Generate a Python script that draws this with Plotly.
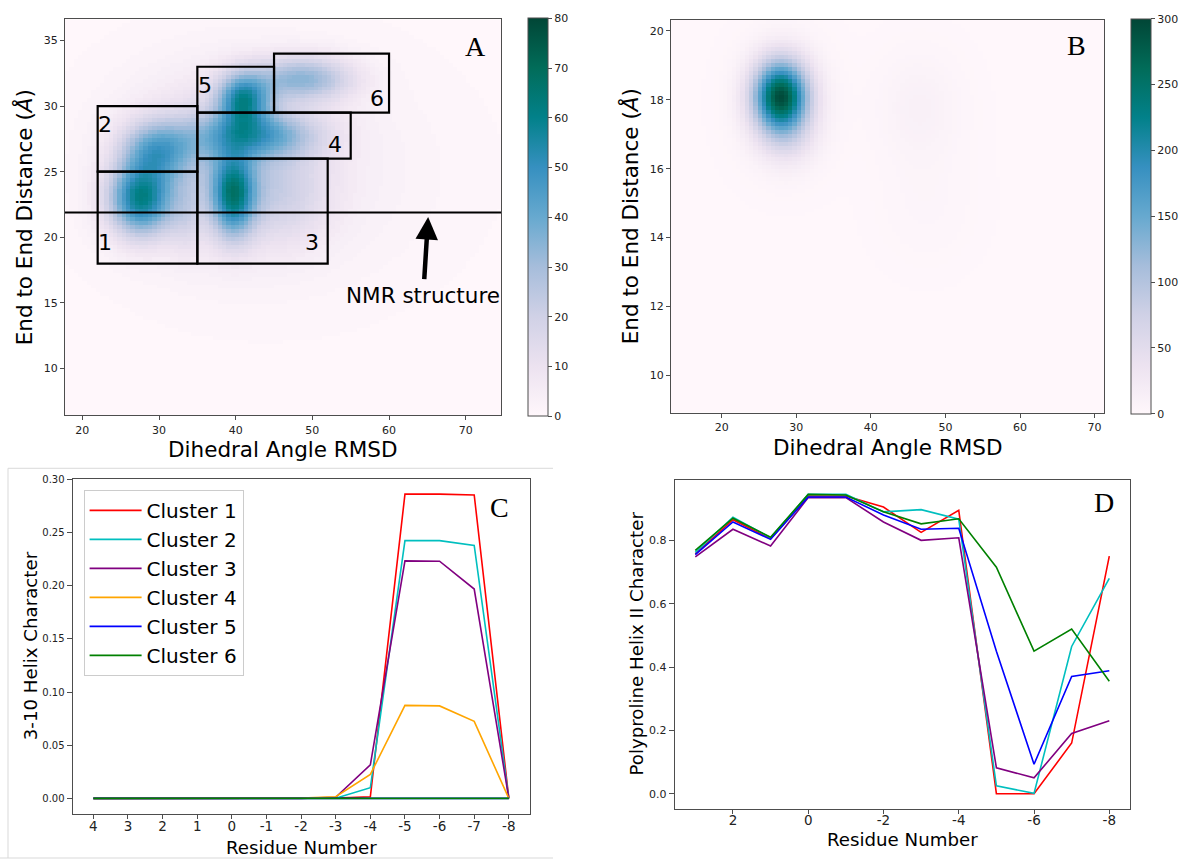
import numpy as np
import plotly.graph_objects as go

W, H = 1188, 860

# ---------------- data ----------------
# Panel A: 2D histogram of dihedral-angle RMSD vs end-to-end distance,
# described by its populated basins (centre, spread, peak count)
a_cx = [27.6, 29.8, 39.7, 41.0, 42.5, 48.8, 46.5, 38.0, 45.0, 33.5]
a_cy = [22.9, 26.7, 23.2, 30.5, 27.8, 32.1, 23.0, 26.0, 25.0, 21.5]
a_sx = [2.9, 3.2, 2.0, 2.3, 5.5, 4.5, 4.0, 8.0, 14.0, 1.5]
a_sy = [1.9, 1.5, 2.2, 1.4, 1.2, 1.2, 2.5, 4.0, 6.0, 2.0]
a_peak = [54, 32, 50, 46, 32, 30, 10, 15, 5, 8]
a_xrange = [17.74, 74.6]
a_yrange = [6.44, 36.62]

# Panel B: same projection for the second ensemble
b_cx = [27.9, 28.4, 28.8, 46.5, 47.5]
b_cy = [18.1, 17.9, 16.9, 17.8, 15.0]
b_sx = [2.5, 4.0, 2.6, 4.0, 4.5]
b_sy = [0.7, 1.2, 0.6, 1.1, 1.2]
b_peak = [270, 22, 30, 12, 5]
b_xrange = [13.2, 71.26]
b_yrange = [8.92, 20.32]

# Cluster boxes drawn on panel A
cluster_ids = ["1", "2", "3", "4", "5", "6"]
box_x0 = [22, 22, 35, 35, 35, 45]
box_x1 = [35, 35, 52, 55, 45, 60]
box_y0 = [18, 25, 18, 26, 29.5, 29.5]
box_y1 = [25, 30, 26, 29.5, 33, 34]
nmr_distance = 21.9

# Panel C: 3-10 helix character per residue
res_c = [4, 3, 2, 1, 0, -1, -2, -3, -4, -5, -6, -7, -8]
helix310 = {
    "Cluster 1": [0, 0, 0, 0, 0, 0, 0, 0.0003, 0.0015, 0.2863, 0.2863, 0.2855, 0],
    "Cluster 2": [0, 0, 0, 0, 0, 0, 0, 0.0002, 0.0100, 0.2425, 0.2425, 0.2380, 0],
    "Cluster 3": [0, 0, 0, 0, 0, 0, 0, 0.0010, 0.0315, 0.2235, 0.2232, 0.1970, 0],
    "Cluster 4": [0, 0, 0, 0, 0, 0, 0.0003, 0.0015, 0.0225, 0.0875, 0.0870, 0.0725, 0],
    "Cluster 5": [0, 0, 0, 0, 0, 0, 0, 0, 0, 0, 0, 0, 0],
    "Cluster 6": [0, 0, 0, 0, 0, 0, 0, 0, 0, 0, 0, 0, 0],
}

# Panel D: polyproline II character per residue
res_d = [3, 2, 1, 0, -1, -2, -3, -4, -5, -6, -7, -8]
ppii = {
    "Cluster 1": [0.757, 0.865, 0.805, 0.940, 0.940, 0.905, 0.825, 0.895, 0.000, 0.000, 0.160, 0.750],
    "Cluster 2": [0.762, 0.873, 0.808, 0.945, 0.945, 0.890, 0.897, 0.867, 0.025, 0.001, 0.465, 0.680],
    "Cluster 3": [0.748, 0.835, 0.782, 0.935, 0.935, 0.858, 0.800, 0.808, 0.082, 0.050, 0.190, 0.230],
    "Cluster 5": [0.755, 0.858, 0.803, 0.937, 0.937, 0.880, 0.835, 0.838, 0.450, 0.093, 0.370, 0.388],
    "Cluster 6": [0.768, 0.870, 0.810, 0.945, 0.943, 0.890, 0.852, 0.868, 0.715, 0.450, 0.520, 0.355],
}

colors = {
    "Cluster 1": "#ff0000",
    "Cluster 2": "#00bfbf",
    "Cluster 3": "#800080",
    "Cluster 4": "#ffa500",
    "Cluster 5": "#0000ff",
    "Cluster 6": "#008000",
}

pubugn = [
    [0.0, "#fff7fb"], [0.125, "#ece2f0"], [0.25, "#d0d1e6"], [0.375, "#a6bddb"],
    [0.5, "#67a9cf"], [0.625, "#3690c0"], [0.75, "#02818a"], [0.875, "#016c59"],
    [1.0, "#014636"],
]

FONT = "DejaVu Sans"
SERIF = "Liberation Serif"
FRAME = "#4d4d4d"


def px(x):
    return x / W


def py(y):
    return 1 - y / H


def hist_grid(xr, yr, cx, cy, sx, sy, peak, nbins=100):
    xe = np.linspace(xr[0], xr[1], nbins + 1)
    ye = np.linspace(yr[0], yr[1], nbins + 1)
    xc = 0.5 * (xe[:-1] + xe[1:])
    yc = 0.5 * (ye[:-1] + ye[1:])
    X, Y = np.meshgrid(xc, yc)
    z = np.zeros_like(X)
    for x0, y0, s1, s2, a in zip(cx, cy, sx, sy, peak):
        z += a * np.exp(-0.5 * (((X - x0) / s1) ** 2 + ((Y - y0) / s2) ** 2))
    return xc, yc, np.round(z)


fig = go.Figure()

# ---------------- panel A ----------------
xa, ya, za = hist_grid(a_xrange, a_yrange, a_cx, a_cy, a_sx, a_sy, a_peak)
fig.add_trace(go.Heatmap(
    x=xa, y=ya, z=za, xaxis="x", yaxis="y", colorscale=pubugn, zmin=0, zmax=80,
    hoverinfo="skip",
    colorbar=dict(
        x=px(527.7), xanchor="left", xpad=0, y=py(213.5), yanchor="middle", ypad=0,
        len=398.4, lenmode="pixels", thickness=20, thicknessmode="pixels",
        outlinewidth=1, outlinecolor=FRAME, tickmode="linear", tick0=0, dtick=10,
        ticks="outside", ticklen=4, tickcolor=FRAME,
        tickfont=dict(family=FONT, size=11, color="#222"),
    ),
))

# ---------------- panel B ----------------
xb, yb, zb = hist_grid(b_xrange, b_yrange, b_cx, b_cy, b_sx, b_sy, b_peak)
fig.add_trace(go.Heatmap(
    x=xb, y=yb, z=zb, xaxis="x2", yaxis="y2", colorscale=pubugn, zmin=0, zmax=300,
    hoverinfo="skip",
    colorbar=dict(
        x=px(1131), xanchor="left", xpad=0, y=py(212.5), yanchor="middle", ypad=0,
        len=395, lenmode="pixels", thickness=20, thicknessmode="pixels",
        outlinewidth=1, outlinecolor=FRAME, tickmode="linear", tick0=0, dtick=50,
        ticks="outside", ticklen=4, tickcolor=FRAME,
        tickfont=dict(family=FONT, size=11, color="#222"),
    ),
))

# ---------------- panel C ----------------
for name, vals in helix310.items():
    fig.add_trace(go.Scatter(
        x=res_c, y=vals, mode="lines", name=name, xaxis="x3", yaxis="y3",
        line=dict(color=colors[name], width=1.6), showlegend=True,
    ))

# ---------------- panel D ----------------
for name, vals in ppii.items():
    fig.add_trace(go.Scatter(
        x=res_d, y=vals, mode="lines", name=name, xaxis="x4", yaxis="y4",
        line=dict(color=colors[name], width=1.6), showlegend=False,
    ))


# ---------------- axes ----------------
def axis(domain, rng, tickvals=None, ticktext=None, size=11, ticklen=4, anchor=None,
         standoff=0):
    d = dict(
        domain=domain, range=rng, showline=True, mirror=True, linecolor=FRAME, linewidth=1,
        ticks="outside", ticklen=ticklen, tickcolor=FRAME, showgrid=False, zeroline=False,
        tickfont=dict(family=FONT, size=size, color="#222"), anchor=anchor,
        ticklabelstandoff=standoff,
    )
    if tickvals is not None:
        d["tickmode"] = "array"
        d["tickvals"] = tickvals
        d["ticktext"] = ticktext if ticktext is not None else [str(v) for v in tickvals]
    return d


a_xt = [20, 30, 40, 50, 60, 70]
a_yt = [10, 15, 20, 25, 30, 35]
b_xt = [20, 30, 40, 50, 60, 70]
b_yt = [10, 12, 14, 16, 18, 20]
c_yt = [0.0, 0.05, 0.10, 0.15, 0.20, 0.25, 0.30]
d_xt = [2, 0, -2, -4, -6, -8]
d_yt = [0.0, 0.2, 0.4, 0.6, 0.8]

fig.update_layout(
    xaxis=axis([px(65), px(501)], a_xrange, a_xt, anchor="y"),
    yaxis=axis([py(412.7), py(14.3)], a_yrange, a_yt, anchor="x"),
    xaxis2=axis([px(671), px(1104)], b_xrange, b_xt, anchor="y2"),
    yaxis2=axis([py(410), py(15)], b_yrange, b_yt, anchor="x2"),
    xaxis3=axis([px(72.6), px(529.6)], [4.6, -8.6], res_c, [str(v) for v in res_c],
                size=13.5, ticklen=4, anchor="y3", standoff=-4),
    yaxis3=axis([py(813.3), py(476.7)], [-0.0143, 0.3006], c_yt, [f"{v:.2f}" for v in c_yt],
                size=10, ticklen=5, anchor="x3"),
    xaxis4=axis([px(674.6), px(1130)], [3.55, -8.55], d_xt, [str(v) for v in d_xt],
                size=13.5, ticklen=4, anchor="y4", standoff=-5),
    yaxis4=axis([py(808.3), py(477.3)], [-0.047, 0.992], d_yt, [f"{v:.1f}" for v in d_yt],
                size=11, ticklen=5, anchor="x4"),
)

# ---------------- shapes ----------------
shapes = []
for x0, x1, y0, y1 in zip(box_x0, box_x1, box_y0, box_y1):
    shapes.append(dict(type="rect", xref="x", yref="y", x0=x0, x1=x1, y0=y0, y1=y1,
                       line=dict(color="black", width=2.2), fillcolor="rgba(0,0,0,0)"))
shapes.append(dict(type="line", xref="x domain", yref="y", x0=0, x1=1,
                   y0=nmr_distance, y1=nmr_distance, line=dict(color="black", width=2)))
# light frame around panel C
frame_c = "#d9d9d9"
shapes += [
    dict(type="line", xref="paper", yref="paper", x0=px(8), x1=px(8), y0=py(466), y1=py(858),
         line=dict(color=frame_c, width=1)),
    dict(type="line", xref="paper", yref="paper", x0=px(8), x1=px(553), y0=py(466), y1=py(466),
         line=dict(color=frame_c, width=1)),
    dict(type="line", xref="paper", yref="paper", x0=px(0), x1=px(553), y0=py(858), y1=py(858),
         line=dict(color=frame_c, width=1)),
]

# ---------------- text ----------------
ann = []


def label(x, y, text, size, angle=0, family=FONT):
    ann.append(dict(xref="paper", yref="paper", x=px(x), y=py(y), text=text, showarrow=False,
                    xanchor="center", yanchor="middle", textangle=angle,
                    font=dict(family=family, size=size, color="black")))


label(283, 446.7, "Dihedral Angle RMSD", 21.5)
label(24, 213.5, "End to End Distance (<i>Å</i>)", 21.5, -90)
label(887.5, 445, "Dihedral Angle RMSD", 21.5)
label(630, 212.5, "End to End Distance (<i>Å</i>)", 21.5, -90)
label(301.5, 847.5, "Residue Number", 18.2)
label(30, 645, "3-10 Helix Character", 18.2, -90)
label(902, 839.5, "Residue Number", 18.2)
label(637, 642.3, "Polyproline Helix II Character", 18.2, -90)

label(475, 42, "A", 28, family=SERIF)
label(1076, 41, "B", 28, family=SERIF)
label(499, 505, "C", 28, family=SERIF)
label(1103.5, 500, "D", 28, family=SERIF)

# cluster numbers inside the boxes
label_x = [22.93, 22.93, 50.0, 53.0, 35.95, 58.47]
label_y = [19.58, 28.56, 19.58, 27.1, 31.6, 30.58]
for t, lx, ly in zip(cluster_ids, label_x, label_y):
    ann.append(dict(xref="x", yref="y", x=lx, y=ly, text=t, showarrow=False,
                    xanchor="center", yanchor="middle",
                    font=dict(family=FONT, size=22, color="black")))

# arrow pointing at the NMR end-to-end distance
ann.append(dict(xref="x", yref="y", x=65.1, y=nmr_distance - 0.35, axref="x", ayref="y",
                ax=64.46, ay=15.6, text="NMR structure", showarrow=True,
                arrowhead=2, arrowsize=1.0, arrowwidth=4.5, arrowcolor="black", standoff=0,
                startstandoff=2, font=dict(family=FONT, size=21.5, color="black")))

fig.update_layout(
    width=W, height=H, margin=dict(l=0, r=0, t=0, b=0),
    paper_bgcolor="white", plot_bgcolor="white",
    shapes=shapes, annotations=ann,
    legend=dict(
        x=px(83.6), y=py(487.7), xanchor="left", yanchor="top",
        bgcolor="rgba(255,255,255,0.85)", bordercolor="#cccccc", borderwidth=1,
        font=dict(family=FONT, size=20, color="black"), itemwidth=52,
        tracegroupgap=0,
    ),
)

fig.write_html("out.html")
